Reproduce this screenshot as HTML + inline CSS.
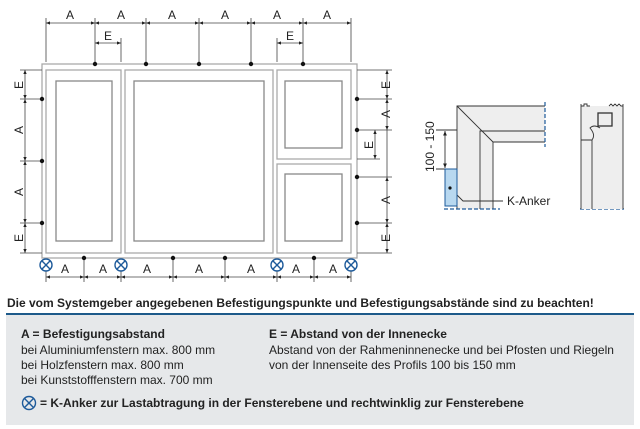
<!DOCTYPE html>
<html><head><meta charset="utf-8"><style>
html,body{margin:0;padding:0;background:#fff;}
body{width:640px;height:429px;position:relative;overflow:hidden;font-family:"Liberation Sans",sans-serif;}
.t{position:absolute;font-size:12px;color:#222;white-space:nowrap;}
</style></head><body>
<svg width="640" height="290" style="position:absolute;left:0;top:0" font-family="Liberation Sans" font-size="11" fill="#222">
<defs><marker id="m" viewBox="0 0 6 6" refX="6" refY="3" markerWidth="5" markerHeight="5" orient="auto-start-reverse"><path d="M0,0.5 L6,3 L0,5.5z" fill="#222"/></marker></defs>
<g fill="none" stroke="#aaa" stroke-width="1.3">
<rect x="42" y="64" width="315" height="194"/>
<rect x="46" y="70" width="75" height="183"/>
<rect x="56" y="81" width="56" height="160" stroke="#888"/>
<rect x="125" y="70" width="148" height="183"/>
<rect x="134" y="81" width="130" height="160" stroke="#888"/>
<rect x="277" y="70" width="74" height="89"/>
<rect x="285" y="81" width="57" height="67" stroke="#888"/>
<rect x="277" y="164" width="74" height="89"/>
<rect x="285" y="174" width="57" height="67" stroke="#888"/>
</g>
<g stroke="#444" stroke-width="0.8">
<g marker-start="url(#m)" marker-end="url(#m)">
<line x1="46" y1="23" x2="95" y2="23"/><line x1="95" y1="23" x2="146" y2="23"/><line x1="146" y1="23" x2="199" y2="23"/><line x1="199" y1="23" x2="251" y2="23"/><line x1="251" y1="23" x2="303" y2="23"/><line x1="303" y1="23" x2="351" y2="23"/>
<line x1="95" y1="43" x2="121" y2="43"/><line x1="277" y1="43" x2="303" y2="43"/>
<line x1="25" y1="70" x2="25" y2="99"/><line x1="25" y1="99" x2="25" y2="161"/><line x1="25" y1="161" x2="25" y2="223"/><line x1="25" y1="223" x2="25" y2="253"/>
<line x1="387" y1="70" x2="387" y2="99"/><line x1="387" y1="99" x2="387" y2="130"/><line x1="387" y1="177" x2="387" y2="223"/><line x1="387" y1="223" x2="387" y2="253"/>
<line x1="375" y1="130" x2="375" y2="159"/>
<line x1="46" y1="277" x2="84" y2="277"/><line x1="84" y1="277" x2="121" y2="277"/><line x1="121" y1="277" x2="173" y2="277"/><line x1="173" y1="277" x2="225" y2="277"/><line x1="225" y1="277" x2="277" y2="277"/><line x1="277" y1="277" x2="314" y2="277"/><line x1="314" y1="277" x2="351" y2="277"/>
</g>
<line x1="387" y1="130" x2="387" y2="177"/>
<line x1="46" y1="18" x2="46" y2="62"/><line x1="95" y1="18" x2="95" y2="64"/><line x1="146" y1="18" x2="146" y2="64"/><line x1="199" y1="18" x2="199" y2="64"/><line x1="251" y1="18" x2="251" y2="64"/><line x1="303" y1="18" x2="303" y2="64"/><line x1="351" y1="18" x2="351" y2="62"/>
<line x1="121" y1="38" x2="121" y2="62"/><line x1="277" y1="38" x2="277" y2="62"/>
<line x1="20" y1="70" x2="42" y2="70"/><line x1="20" y1="99" x2="42" y2="99"/><line x1="20" y1="161" x2="42" y2="161"/><line x1="20" y1="223" x2="42" y2="223"/><line x1="20" y1="253" x2="42" y2="253"/>
<line x1="357" y1="70" x2="392" y2="70"/><line x1="357" y1="99" x2="392" y2="99"/><line x1="357" y1="130" x2="392" y2="130"/><line x1="357" y1="177" x2="392" y2="177"/><line x1="357" y1="223" x2="392" y2="223"/><line x1="357" y1="253" x2="392" y2="253"/>
<line x1="357" y1="159" x2="380" y2="159"/>
<line x1="46" y1="270" x2="46" y2="282"/><line x1="84" y1="258" x2="84" y2="282"/><line x1="121" y1="270" x2="121" y2="282"/><line x1="173" y1="258" x2="173" y2="282"/><line x1="225" y1="258" x2="225" y2="282"/><line x1="277" y1="270" x2="277" y2="282"/><line x1="314" y1="258" x2="314" y2="282"/><line x1="351" y1="270" x2="351" y2="282"/>
</g>
<g fill="#111">
<circle cx="95" cy="64" r="2.2"/><circle cx="146" cy="64" r="2.2"/><circle cx="199" cy="64" r="2.2"/><circle cx="251" cy="64" r="2.2"/><circle cx="303" cy="64" r="2.2"/>
<circle cx="42" cy="99" r="2.2"/><circle cx="42" cy="161" r="2.2"/><circle cx="42" cy="223" r="2.2"/>
<circle cx="357" cy="99" r="2.2"/><circle cx="357" cy="130" r="2.2"/><circle cx="357" cy="177" r="2.2"/><circle cx="357" cy="223" r="2.2"/>
<circle cx="84" cy="258" r="2.2"/><circle cx="173" cy="258" r="2.2"/><circle cx="225" cy="258" r="2.2"/><circle cx="314" cy="258" r="2.2"/>
</g>
<g fill="none" stroke="#1d5a9a" stroke-width="1.4">
<g id="x"><circle cx="46" cy="265" r="6" fill="#fff"/><line x1="41.8" y1="260.8" x2="50.2" y2="269.2"/><line x1="50.2" y1="260.8" x2="41.8" y2="269.2"/></g>
<use href="#x" x="75"/><use href="#x" x="231"/><use href="#x" x="305"/>
</g>
<g text-anchor="middle" font-size="12">
<text x="70" y="19">A</text><text x="121" y="19">A</text><text x="172" y="19">A</text><text x="225" y="19">A</text><text x="277" y="19">A</text><text x="327" y="19">A</text>
<text x="108" y="40">E</text><text x="290" y="40">E</text>
<text x="65" y="273">A</text><text x="103" y="273">A</text><text x="147" y="273">A</text><text x="199" y="273">A</text><text x="251" y="273">A</text><text x="296" y="273">A</text><text x="333" y="273">A</text>
<text transform="translate(23,85) rotate(-90)">E</text><text transform="translate(23,130) rotate(-90)">A</text><text transform="translate(23,192) rotate(-90)">A</text><text transform="translate(23,238) rotate(-90)">E</text>
<text transform="translate(390,85) rotate(-90)">E</text><text transform="translate(390,114) rotate(-90)">A</text><text transform="translate(373,145) rotate(-90)">E</text><text transform="translate(390,200) rotate(-90)">A</text><text transform="translate(390,238) rotate(-90)">E</text>
</g>
<polygon points="457,106 545,106 545,142 493,142 493,209 457,209" fill="#eee" stroke="none"/>
<g stroke="#333" stroke-width="0.9" fill="none">
<polyline points="545,106 457,106 457,209"/>
<polyline points="545,131 480,131 480,209"/>
<polyline points="545,142 493,142 493,209"/>
<line x1="457" y1="106" x2="493" y2="142"/>
<line x1="436" y1="130" x2="457" y2="130"/><line x1="436" y1="169" x2="457" y2="169"/>
<line x1="445" y1="131" x2="445" y2="168" marker-start="url(#m)" marker-end="url(#m)"/>
<polyline points="450,188 463,201 503,201"/>
</g>
<rect x="445" y="169" width="12" height="37" fill="#b8d8f0" stroke="#1d5a9a" stroke-width="1"/>
<circle cx="450" cy="188" r="1.6" fill="#111"/>
<g stroke="#1d5a9a" stroke-width="1.2" stroke-dasharray="4,2"><line x1="545" y1="102" x2="545" y2="147"/><line x1="444" y1="209" x2="500" y2="209"/><line x1="580" y1="209" x2="624" y2="209"/></g>
<text x="507" y="205" font-size="12">K-Anker</text>
<text transform="translate(434,172) rotate(-90)" font-size="12">100 - 150</text>
<rect x="581" y="106" width="42" height="103" fill="#eee"/>
<g stroke="#333" stroke-width="0.9" fill="none">
<line x1="581" y1="104" x2="581" y2="209"/><line x1="623" y1="104" x2="623" y2="209"/>
<polyline points="581,106 584,106 584,104 587,104 587,106 590,106"/>
<polyline points="609,106 611,104 613,106 615,104 617,106 619,104 621,106 623,106"/>
<rect x="598" y="113" width="14" height="13" stroke-width="1.3"/>
<line x1="592" y1="140" x2="592" y2="209"/>
<path d="M581,140 L592,140 Q596,135 590,128 Q594,124 600,128"/>
</g>
</svg>
<div class="t" style="left:7px;top:296px;font-weight:bold">Die vom Systemgeber angegebenen Befestigungspunkte und Befestigungsabstände sind zu beachten!</div>
<div style="position:absolute;left:6px;top:313px;width:628px;height:2px;background:#1d5a8a"></div>
<div style="position:absolute;left:6px;top:315px;width:628px;height:110px;background:#e6e8ea"></div>
<div class="t" style="left:21px;top:327px;font-weight:bold">A = Befestigungsabstand</div>
<div class="t" style="left:21px;top:343px">bei Aluminiumfenstern max. 800 mm</div>
<div class="t" style="left:21px;top:358px">bei Holzfenstern max. 800 mm</div>
<div class="t" style="left:21px;top:373px">bei Kunststofffenstern max. 700 mm</div>
<div class="t" style="left:269px;top:327px;font-weight:bold">E = Abstand von der Innenecke</div>
<div class="t" style="left:269px;top:343px">Abstand von der Rahmeninnenecke und bei Pfosten und Riegeln</div>
<div class="t" style="left:269px;top:358px">von der Innenseite des Profils 100 bis 150 mm</div>
<svg width="16" height="16" style="position:absolute;left:21px;top:395px"><g fill="none" stroke="#1d5a9a" stroke-width="1.4"><circle cx="8" cy="8" r="6.5"/><line x1="3.4" y1="3.4" x2="12.6" y2="12.6"/><line x1="12.6" y1="3.4" x2="3.4" y2="12.6"/></g></svg>
<div class="t" style="left:40px;top:396px;font-weight:bold">= K-Anker zur Lastabtragung in der Fensterebene und rechtwinklig zur Fensterebene</div>
</body></html>
